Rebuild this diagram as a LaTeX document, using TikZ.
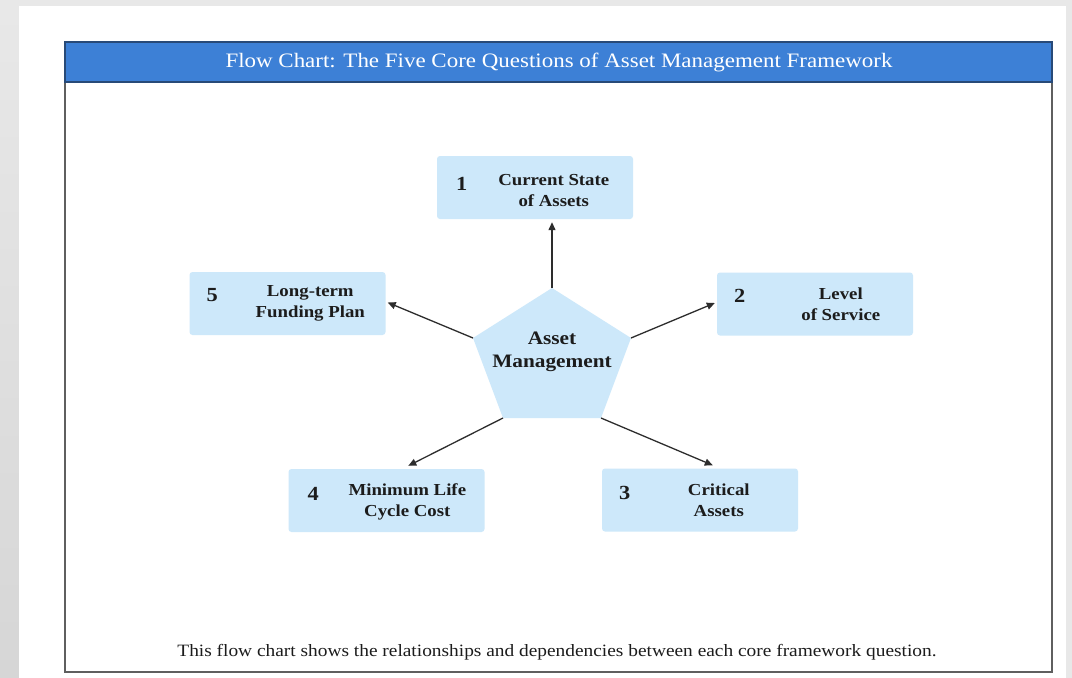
\documentclass[tikz,border=0pt]{standalone}
\usepackage{fontspec}
\setmainfont{Liberation Serif}[FakeStretch=1.12]
\usetikzlibrary{arrows.meta,calc}

\definecolor{pagegray}{RGB}{232,232,232}
\definecolor{stripgray}{RGB}{214,214,214}
\definecolor{barblue}{RGB}{61,128,214}
\definecolor{bardark}{RGB}{40,74,120}
\definecolor{framegray}{RGB}{95,95,95}
\definecolor{boxblue}{RGB}{205,232,250}
\definecolor{inkdark}{RGB}{28,28,28}
\definecolor{arrowdark}{RGB}{45,45,45}

\tikzset{
  qbox/.style={fill=boxblue, draw=none, rounded corners=3pt,
    minimum width=196pt, minimum height=63pt, inner sep=0pt},
  qnum/.style={font=\fontsize{20}{22}\selectfont\bfseries, text=inkdark, inner sep=0pt},
  qtext/.style={font=\fontsize{16.8}{21}\selectfont\bfseries, text=inkdark,
    align=center, inner sep=0pt},
  link/.style={draw=arrowdark, line width=1.3pt,
    -{Triangle[length=8pt,width=7pt]}},
}

\begin{document}
\begin{tikzpicture}[x=1pt,y=-1pt]
  % page background
  \fill[pagegray] (0,0) rectangle (1072,678);
  \shade[top color=pagegray, bottom color=stripgray] (0,6) rectangle (19,678);
  \fill[white] (19,6) rectangle (1066,678);
  \useasboundingbox (0,0) rectangle (1072,678);

  % outer frame and title bar
  \draw[framegray, line width=2pt] (65,42) rectangle (1052,672);
  \fill[barblue] (65,42) rectangle (1052,82);
  \draw[bardark, line width=1.5pt] (65,42) rectangle (1052,82);
  \node[text=white, font=\fontsize{20.5}{22}\selectfont, inner sep=0pt] (title) at (559,62)
    {Flow Chart: The Five Core Questions of Asset Management Framework};

  % central pentagon
  \coordinate (core) at (552,360);
  \coordinate (p1) at (552,288);
  \coordinate (p2) at (631,338);
  \coordinate (p3) at (601,418);
  \coordinate (p4) at (503,418);
  \coordinate (p5) at (473,338);
  \fill[boxblue] (p1) -- (p2) -- (p3) -- (p4) -- (p5) -- cycle;
  \node[qtext, font=\fontsize{19}{23}\selectfont\bfseries] (coretext) at (552,352)
    {Asset\\Management};

  % question boxes
  \node[qbox] (b1) at (535,187.5) {};
  \node[qbox] (b2) at (815,304) {};
  \node[qbox] (b3) at (700,500) {};
  \node[qbox] (b4) at (386.5,500.5) {};
  \node[qbox] (b5) at (287.5,303.5) {};

  \node[qnum] (n1) at ($(b1.west)+(25,-4)$) {1};
  \node[qnum] (n2) at ($(b2.west)+(23,-8)$) {2};
  \node[qnum] (n3) at ($(b3.west)+(23,-7)$) {3};
  \node[qnum] (n4) at ($(b4.west)+(25,-7)$) {4};
  \node[qnum] (n5) at ($(b5.west)+(23,-8)$) {5};

  \node[qtext] (t1) at ($(b1.west)+(117,3)$) {Current State\\of Assets};
  \node[qtext] (t2) at ($(b2.west)+(124,0)$) {Level\\of Service};
  \node[qtext] (t3) at ($(b3.west)+(117,0)$) {Critical\\Assets};
  \node[qtext] (t4) at ($(b4.west)+(119,1)$) {Minimum Life\\Cycle Cost};
  \node[qtext] (t5) at ($(b5.west)+(121,0)$) {Long-term\\Funding Plan};

  % arrow ends beside each box
  \coordinate (a1) at ($(b1.south -| p1)+(0,3)$);
  \coordinate (a2) at ($(b2.west)+(-2,-1)$);
  \coordinate (a3) at ($(b3.north west)+(111,-3)$);
  \coordinate (a4) at ($(b4.north west)+(120,-3)$);
  \coordinate (a5) at ($(b5.east)+(2,-1)$);

  \draw[link] (p1) -- (a1);
  \draw[link] (p2) -- (a2);
  \draw[link] (p3) -- (a3);
  \draw[link] (p4) -- (a4);
  \draw[link] (p5) -- (a5);

  % caption
  \node[text=inkdark, font=\fontsize{17.3}{19}\selectfont, inner sep=0pt] (caption) at (557,652)
    {This flow chart shows the relationships and dependencies between each core framework question.};
\end{tikzpicture}
\end{document}
